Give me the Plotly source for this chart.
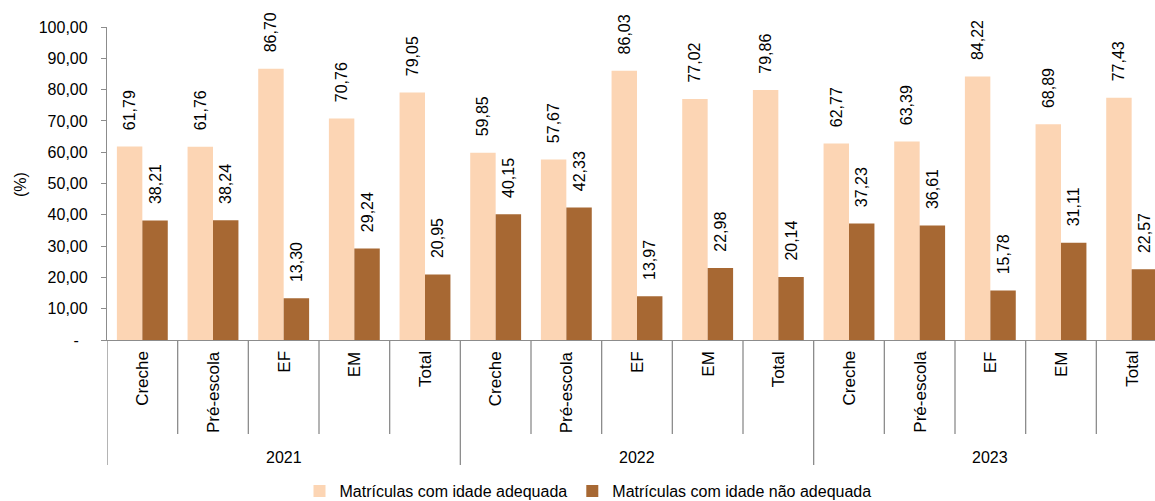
import plotly.graph_objects as go

years = ["2021", "2022", "2023"]
stages = ["Creche", "Pré-escola", "EF", "EM", "Total"]
adequada = [61.79, 61.76, 86.70, 70.76, 79.05,
            59.85, 57.67, 86.03, 77.02, 79.86,
            62.77, 63.39, 84.22, 68.89, 77.43]
nao_adequada = [38.21, 38.24, 13.30, 29.24, 20.95,
                40.15, 42.33, 13.97, 22.98, 20.14,
                37.23, 36.61, 15.78, 31.11, 22.57]
y_ticks = [0, 10, 20, 30, 40, 50, 60, 70, 80, 90, 100]
series_names = ["Matrículas com idade adequada", "Matrículas com idade não adequada"]

LIGHT = "#FCD5B4"
DARK = "#A76833"
AXIS = "#8C8C8C"
FONT = "Liberation Sans, Arial, sans-serif"

n = len(years) * len(stages)
xs = list(range(n))

def fmt(v):
    return f"{v:.2f}".replace(".", ",")

def lbl(v):
    return "\u00a0\u00a0\u00a0" + fmt(v)

fig = go.Figure()
for vals, name, col in [(adequada, series_names[0], LIGHT), (nao_adequada, series_names[1], DARK)]:
    fig.add_trace(go.Bar(
        x=xs, y=vals, name=name, marker=dict(color=col, line=dict(width=0)),
        text=[lbl(v) for v in vals], textposition="outside", textangle=-90,
        constraintext="none", cliponaxis=False,
        textfont=dict(family=FONT, size=16, color="#000000"),
        hoverinfo="skip",
    ))

def tick_txt(v):
    return "-\u00a0\u00a0" if v == 0 else fmt(v)

fig.update_layout(
    width=1155, height=501,
    margin=dict(l=107, r=0, t=27, b=161, autoexpand=False),
    paper_bgcolor="white", plot_bgcolor="white",
    barmode="group", bargap=0.28, bargroupgap=0,
    font=dict(family=FONT, size=16, color="#000000"),
    showlegend=True,
    legend=dict(orientation="h", xref="container", yref="container",
                x=588 / 1155, xanchor="center", y=1 - 491 / 501, yanchor="middle",
                font=dict(size=16), itemwidth=30, traceorder="normal",
                bgcolor="rgba(0,0,0,0)"),
    xaxis=dict(range=[-0.5, n - 0.5 - 12 / 70.7], showticklabels=False, ticks="",
               showgrid=False, zeroline=False, showline=True, linecolor=AXIS, linewidth=1.3,
               fixedrange=True, automargin=False),
    yaxis=dict(range=[0, 100], tickvals=y_ticks, ticktext=[tick_txt(v) for v in y_ticks],
               ticks="outside", ticklen=5, tickcolor=AXIS, tickwidth=1.3,
               ticklabelstandoff=10, showgrid=False, zeroline=False, showline=True,
               linecolor=AXIS, linewidth=1.3, tickfont=dict(size=16), fixedrange=True,
               automargin=False),
)

ann = []
shapes = []
plot_h = 501 - 27 - 161
def py(pix):
    return (340 - pix) / plot_h

for gi, yr in enumerate(years):
    for si, st in enumerate(stages):
        i = gi * len(stages) + si
        ann.append(dict(x=i, y=py(349), xref="x", yref="paper", text=st, textangle=-90,
                        showarrow=False, xanchor="center", yanchor="top",
                        font=dict(size=17, family=FONT, color="#000000")))
        if si < len(stages) - 1:
            shapes.append(dict(type="line", xref="x", yref="paper", x0=i + 0.5, x1=i + 0.5,
                               y0=0, y1=py(434), line=dict(color=AXIS, width=1.3)))
    center = gi * len(stages) + (len(stages) - 1) / 2
    ann.append(dict(x=center, y=py(457), xref="x", yref="paper", text=yr, showarrow=False,
                    xanchor="center", yanchor="middle", font=dict(size=16, family=FONT, color="#000000")))
for b in range(len(years) + 1):
    xb = b * len(stages) - 0.5
    shapes.append(dict(type="line", xref="x", yref="paper", x0=xb, x1=xb,
                       y0=0, y1=py(465), line=dict(color=AXIS, width=1.3)))

ann.append(dict(x=(20 - 107) / (1155 - 107), y=py(185), xref="paper", yref="paper", text="(%)",
                textangle=-90, showarrow=False, xanchor="center", yanchor="middle",
                font=dict(size=16, family=FONT, color="#000000")))

fig.update_layout(annotations=ann, shapes=shapes)
fig.write_html("out.html", config={"displayModeBar": False},
               post_script="document.body.style.margin='0';document.body.style.overflow='hidden';")
